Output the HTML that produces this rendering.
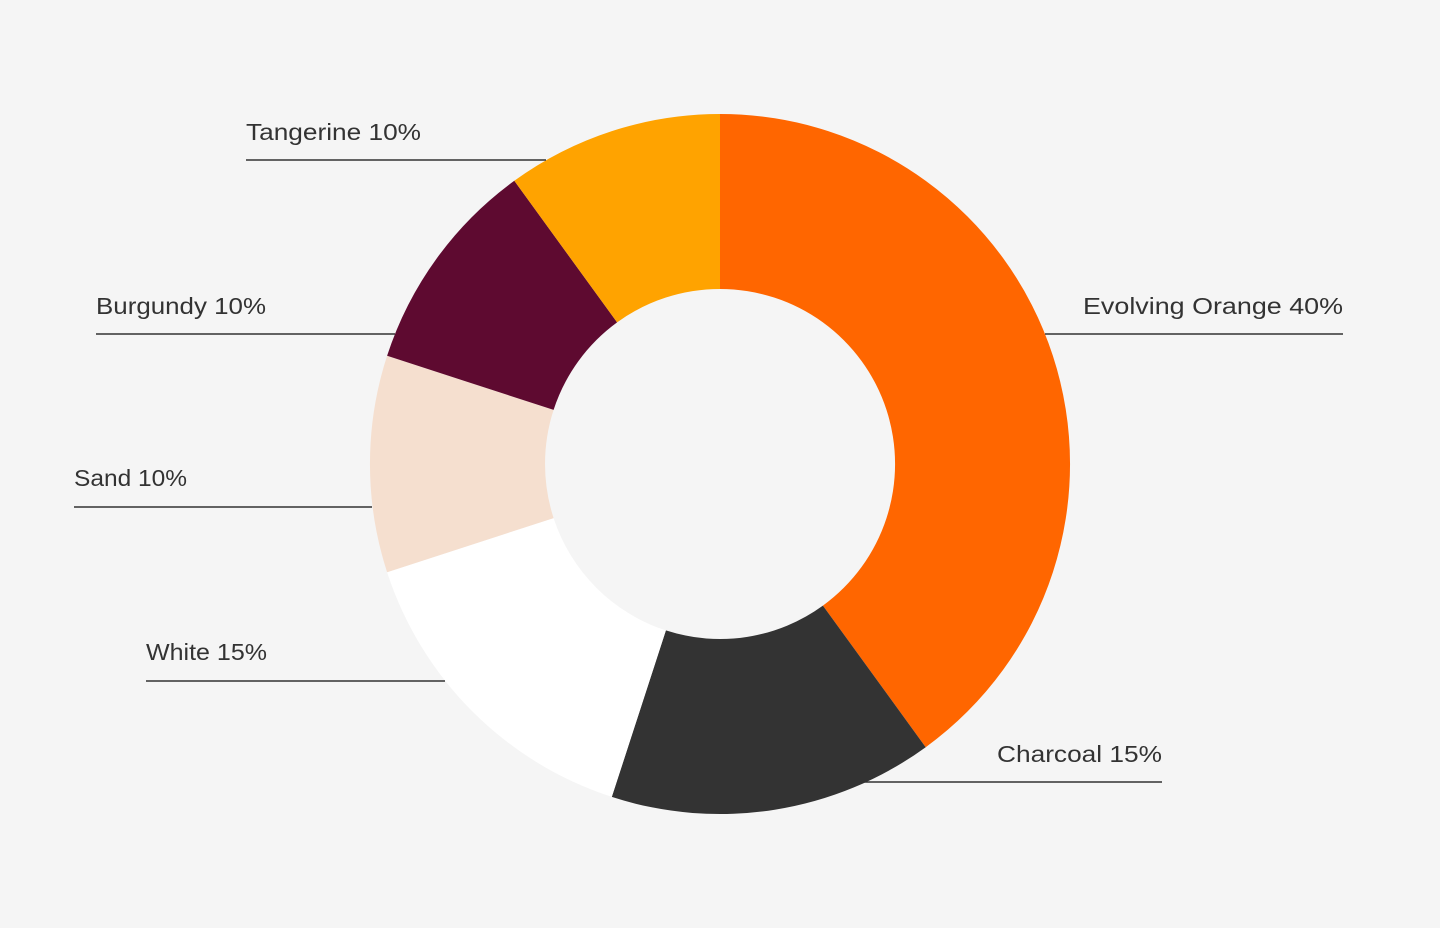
<!DOCTYPE html>
<html><head><meta charset="utf-8"><style>
html,body{margin:0;padding:0;background:#f5f5f5;}
svg{display:block;}
text{font-family:"Liberation Sans",sans-serif;font-size:23px;fill:#333;}
</style></head><body>
<svg width="1440" height="928" viewBox="0 0 1440 928">
<rect width="1440" height="928" fill="#f5f5f5"/>
<path d="M720,114 A350,350 0 0 1 925.7,747.2 L822.9,605.6 A175,175 0 0 0 720,289 Z" fill="#FF6600"/>
<path d="M925.7,747.2 A350,350 0 0 1 611.8,796.9 L665.9,630.4 A175,175 0 0 0 822.9,605.6 Z" fill="#333333"/>
<path d="M611.8,796.9 A350,350 0 0 1 387.1,572.2 L553.6,518.1 A175,175 0 0 0 665.9,630.4 Z" fill="#FFFFFF"/>
<path d="M387.1,572.2 A350,350 0 0 1 387.1,355.8 L553.6,409.9 A175,175 0 0 0 553.6,518.1 Z" fill="#F5DFCF"/>
<path d="M387.1,355.8 A350,350 0 0 1 514.3,180.8 L617.1,322.4 A175,175 0 0 0 553.6,409.9 Z" fill="#5E0A30"/>
<path d="M514.3,180.8 A350,350 0 0 1 720,114 L720,289 A175,175 0 0 0 617.1,322.4 Z" fill="#FFA300"/>
<g stroke="#333" stroke-width="1.5">
<line x1="246" y1="160" x2="546" y2="160"/>
<line x1="96" y1="334" x2="395" y2="334"/>
<line x1="74" y1="507" x2="372" y2="507"/>
<line x1="146" y1="681" x2="445" y2="681"/>
<line x1="860" y1="782" x2="1162" y2="782"/>
<line x1="1045" y1="334" x2="1343" y2="334"/>
</g>
<text x="246" y="140" textLength="175" lengthAdjust="spacingAndGlyphs">Tangerine 10%</text>
<text x="96" y="314" textLength="170" lengthAdjust="spacingAndGlyphs">Burgundy 10%</text>
<text x="74" y="486" textLength="113" lengthAdjust="spacingAndGlyphs">Sand 10%</text>
<text x="146" y="660" textLength="121" lengthAdjust="spacingAndGlyphs">White 15%</text>
<text x="997" y="762" textLength="165" lengthAdjust="spacingAndGlyphs">Charcoal 15%</text>
<text x="1083" y="314" textLength="260" lengthAdjust="spacingAndGlyphs">Evolving Orange 40%</text>
</svg>
</body></html>
